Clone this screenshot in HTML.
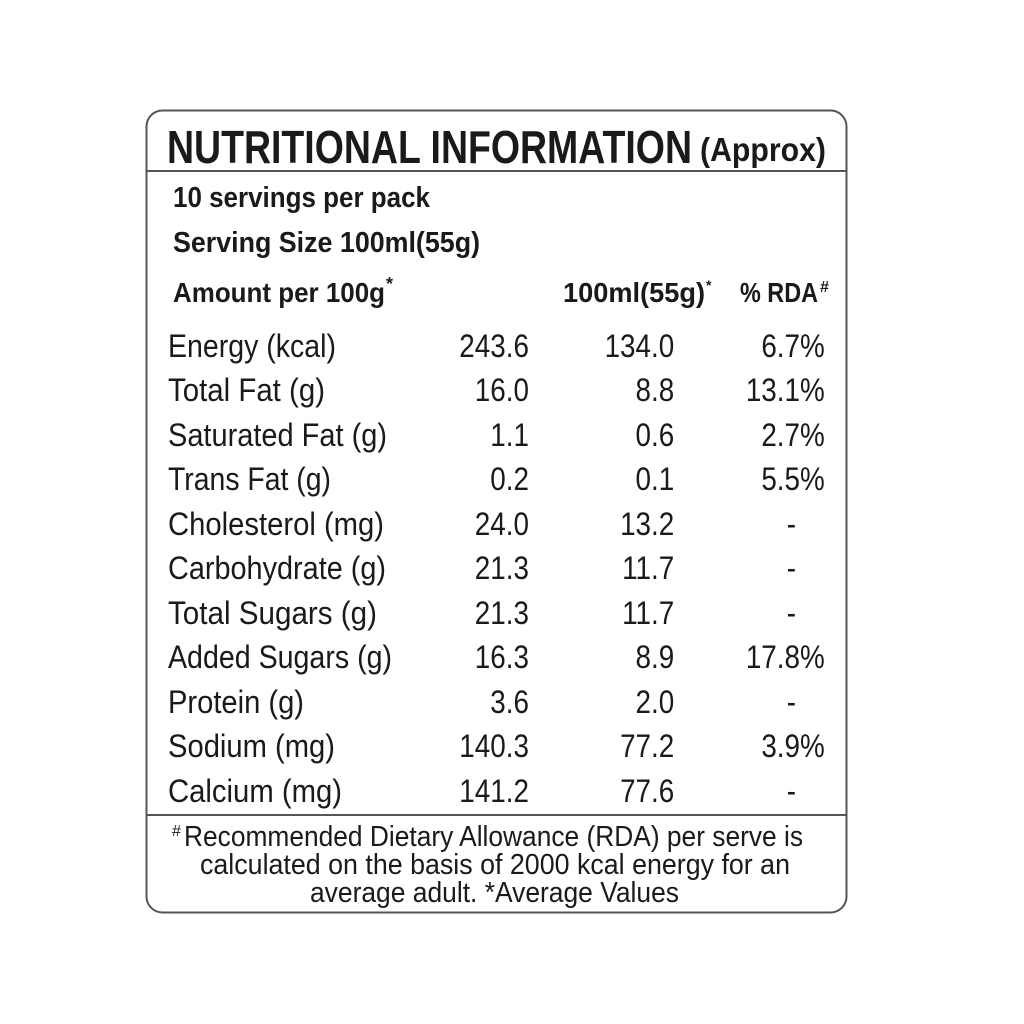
<!DOCTYPE html>
<html><head><style>html,body{margin:0;padding:0;background:#fff}svg{display:block}</style></head>
<body>
<svg width="1024" height="1024" xmlns="http://www.w3.org/2000/svg" font-family="Liberation Sans, sans-serif" fill="#1a1a1a">
<rect x="146.5" y="110.5" width="700" height="802" rx="16" fill="#fff" stroke="#555" stroke-width="2"/>
<line x1="146" y1="171" x2="847" y2="171" stroke="#555" stroke-width="2"/>
<line x1="146" y1="815" x2="847" y2="815" stroke="#555" stroke-width="2"/>
<text x="167" y="163" font-size="46" font-weight="bold" textLength="525" lengthAdjust="spacingAndGlyphs">NUTRITIONAL INFORMATION</text>
<text x="700" y="161" font-size="33" font-weight="bold" textLength="126" lengthAdjust="spacingAndGlyphs">(Approx)</text>
<text x="173" y="207" font-size="29" font-weight="bold" textLength="257" lengthAdjust="spacingAndGlyphs">10 servings per pack</text>
<text x="173" y="252" font-size="29" font-weight="bold" textLength="307" lengthAdjust="spacingAndGlyphs">Serving Size 100ml(55g)</text>
<text x="173" y="302" font-size="28" font-weight="bold" textLength="212" lengthAdjust="spacingAndGlyphs">Amount per 100g</text>
<text x="386" y="290" font-size="18" font-weight="bold">*</text>
<text x="563" y="302" font-size="28" font-weight="bold" textLength="142" lengthAdjust="spacingAndGlyphs">100ml(55g)</text>
<text x="706" y="290" font-size="14" font-weight="bold">*</text>
<text x="740" y="302" font-size="28" font-weight="bold" textLength="78" lengthAdjust="spacingAndGlyphs">% RDA</text>
<text x="820" y="292" font-size="16" font-weight="bold">#</text>
<g font-size="32">
<text x="168" y="357" textLength="168" lengthAdjust="spacingAndGlyphs">Energy (kcal)</text>
<text x="168" y="401" textLength="157" lengthAdjust="spacingAndGlyphs">Total Fat (g)</text>
<text x="168" y="446" textLength="219" lengthAdjust="spacingAndGlyphs">Saturated Fat (g)</text>
<text x="168" y="490" textLength="163" lengthAdjust="spacingAndGlyphs">Trans Fat (g)</text>
<text x="168" y="535" textLength="216" lengthAdjust="spacingAndGlyphs">Cholesterol (mg)</text>
<text x="168" y="579" textLength="218" lengthAdjust="spacingAndGlyphs">Carbohydrate (g)</text>
<text x="168" y="624" textLength="209" lengthAdjust="spacingAndGlyphs">Total Sugars (g)</text>
<text x="168" y="668" textLength="224" lengthAdjust="spacingAndGlyphs">Added Sugars (g)</text>
<text x="168" y="713" textLength="136" lengthAdjust="spacingAndGlyphs">Protein (g)</text>
<text x="168" y="757" textLength="167" lengthAdjust="spacingAndGlyphs">Sodium (mg)</text>
<text x="168" y="802" textLength="174" lengthAdjust="spacingAndGlyphs">Calcium (mg)</text>
</g>
<g font-size="32" text-anchor="end" transform="scale(0.87,1)">
<text x="608" y="357">243.6</text><text x="775" y="357">134.0</text><text x="948" y="357">6.7%</text>
<text x="608" y="401">16.0</text><text x="775" y="401">8.8</text><text x="948" y="401">13.1%</text>
<text x="608" y="446">1.1</text><text x="775" y="446">0.6</text><text x="948" y="446">2.7%</text>
<text x="608" y="490">0.2</text><text x="775" y="490">0.1</text><text x="948" y="490">5.5%</text>
<text x="608" y="535">24.0</text><text x="775" y="535">13.2</text><text x="915" y="535">-</text>
<text x="608" y="579">21.3</text><text x="775" y="579">11.7</text><text x="915" y="579">-</text>
<text x="608" y="624">21.3</text><text x="775" y="624">11.7</text><text x="915" y="624">-</text>
<text x="608" y="668">16.3</text><text x="775" y="668">8.9</text><text x="948" y="668">17.8%</text>
<text x="608" y="713">3.6</text><text x="775" y="713">2.0</text><text x="915" y="713">-</text>
<text x="608" y="757">140.3</text><text x="775" y="757">77.2</text><text x="948" y="757">3.9%</text>
<text x="608" y="802">141.2</text><text x="775" y="802">77.6</text><text x="915" y="802">-</text>
</g>
<g font-size="29">
<text x="172" y="836" font-size="16">#</text>
<text x="184" y="846" textLength="619" lengthAdjust="spacingAndGlyphs">Recommended Dietary Allowance (RDA) per serve is</text>
<text x="200" y="874" textLength="590" lengthAdjust="spacingAndGlyphs">calculated on the basis of 2000 kcal energy for an</text>
<text x="310" y="902" textLength="369" lengthAdjust="spacingAndGlyphs">average adult. *Average Values</text>
</g>
</svg>
</body></html>
